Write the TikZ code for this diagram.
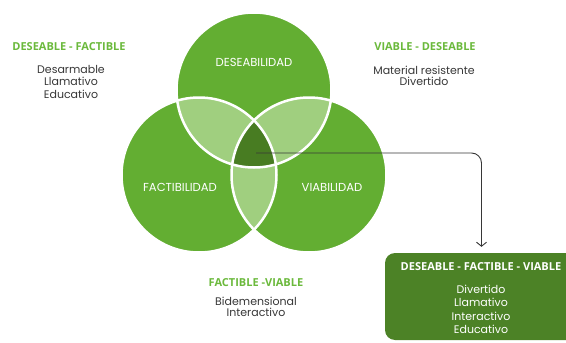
\documentclass[tikz,border=0pt]{standalone}
\usepackage{fontspec}
\setmainfont{Poppins}
\newfontfamily\headfont{Open Sans}
\usetikzlibrary{arrows.meta}
\definecolor{mainG}{RGB}{99,174,50}
\definecolor{lightG}{RGB}{160,207,127}
\definecolor{darkG}{RGB}{72,124,34}
\definecolor{boxG}{RGB}{76,130,38}
\definecolor{headG}{RGB}{107,185,60}
\definecolor{txtG}{RGB}{55,55,55}
\begin{document}
\begin{tikzpicture}[x=1pt,y=-1pt,
  venn/.style={circle, minimum size=155pt, inner sep=0pt, fill=mainG},
  rim/.style={draw=white, line width=2.5pt},
  head/.style={font=\headfont\bfseries\fontsize{11}{12}\selectfont, text=headG, inner sep=0pt},
  body/.style={font=\fontsize{11}{12.5}\selectfont, text=txtG, align=center, inner sep=0pt},
  clabel/.style={font=\fontsize{11.6}{12}\selectfont, text=white, inner sep=0pt},
  conn/.style={draw=txtG, line width=0.9pt, rounded corners=10pt, -{Straight Barb[length=4pt,width=10pt]}},
  panel/.style={fill=boxG, rounded corners=10pt, minimum width=193pt, minimum height=87pt, inner sep=0pt}]
\useasboundingbox (0,0) rectangle (566,343);
\clip (0,0) rectangle (566,343);
% circles
\node[venn] (top) at (254,90) {};
\node[venn] (left) at (199,175) {};
\node[venn] (right) at (309,175) {};
\begin{scope}
  \clip (top.center) circle (77.5pt);
  \fill[lightG] (left.center) circle (77.5pt);
  \fill[lightG] (right.center) circle (77.5pt);
\end{scope}
\begin{scope}
  \clip (left.center) circle (77.5pt);
  \fill[lightG] (right.center) circle (77.5pt);
\end{scope}
\begin{scope}
  \clip (top.center) circle (77.5pt);
  \clip (left.center) circle (77.5pt);
  \fill[darkG] (right.center) circle (77.5pt);
\end{scope}
\draw[rim] (top.center) circle (77.5pt);
\draw[rim] (left.center) circle (77.5pt);
\draw[rim] (right.center) circle (77.5pt);
% circle labels
\node[clabel] (lD) at (254,62) {DESEABILIDAD};
\node[clabel] (lF) at (180,187) {FACTIBILIDAD};
\node[clabel] (lV) at (332,187) {VIABILIDAD};
% side texts
\node[head] (hDF) at (69,47) {DESEABLE - FACTIBLE};
\node[body] (bDF) at (71,81.5) {Desarmable\\Llamativo\\Educativo};
\node[head] (hVD) at (425,47) {VIABLE - DESEABLE};
\node[body, font=\fontsize{11}{11.5}\selectfont] (bVD) at (424,76) {Material resistente\\Divertido};
\node[head] (hFV) at (256,283) {FACTIBLE -VIABLE};
\node[body, font=\fontsize{11}{11.5}\selectfont] (bFV) at (256,307) {Bidemensional\\Interactivo};
% result panel
\node[panel] (box) at (481.5,296.5) {};
\node[head, text=white] (hBox) at (481,267) {DESEABLE - FACTIBLE - VIABLE};
\node[body, text=white, font=\fontsize{11}{13.5}\selectfont] (bBox) at (481,309.5) {Divertido\\Llamativo\\Interactivo\\Educativo};
% connector
\coordinate (hub) at (256,153);
\draw[conn] (hub) -| ([yshift=6pt]box.north);
\end{tikzpicture}
\end{document}
